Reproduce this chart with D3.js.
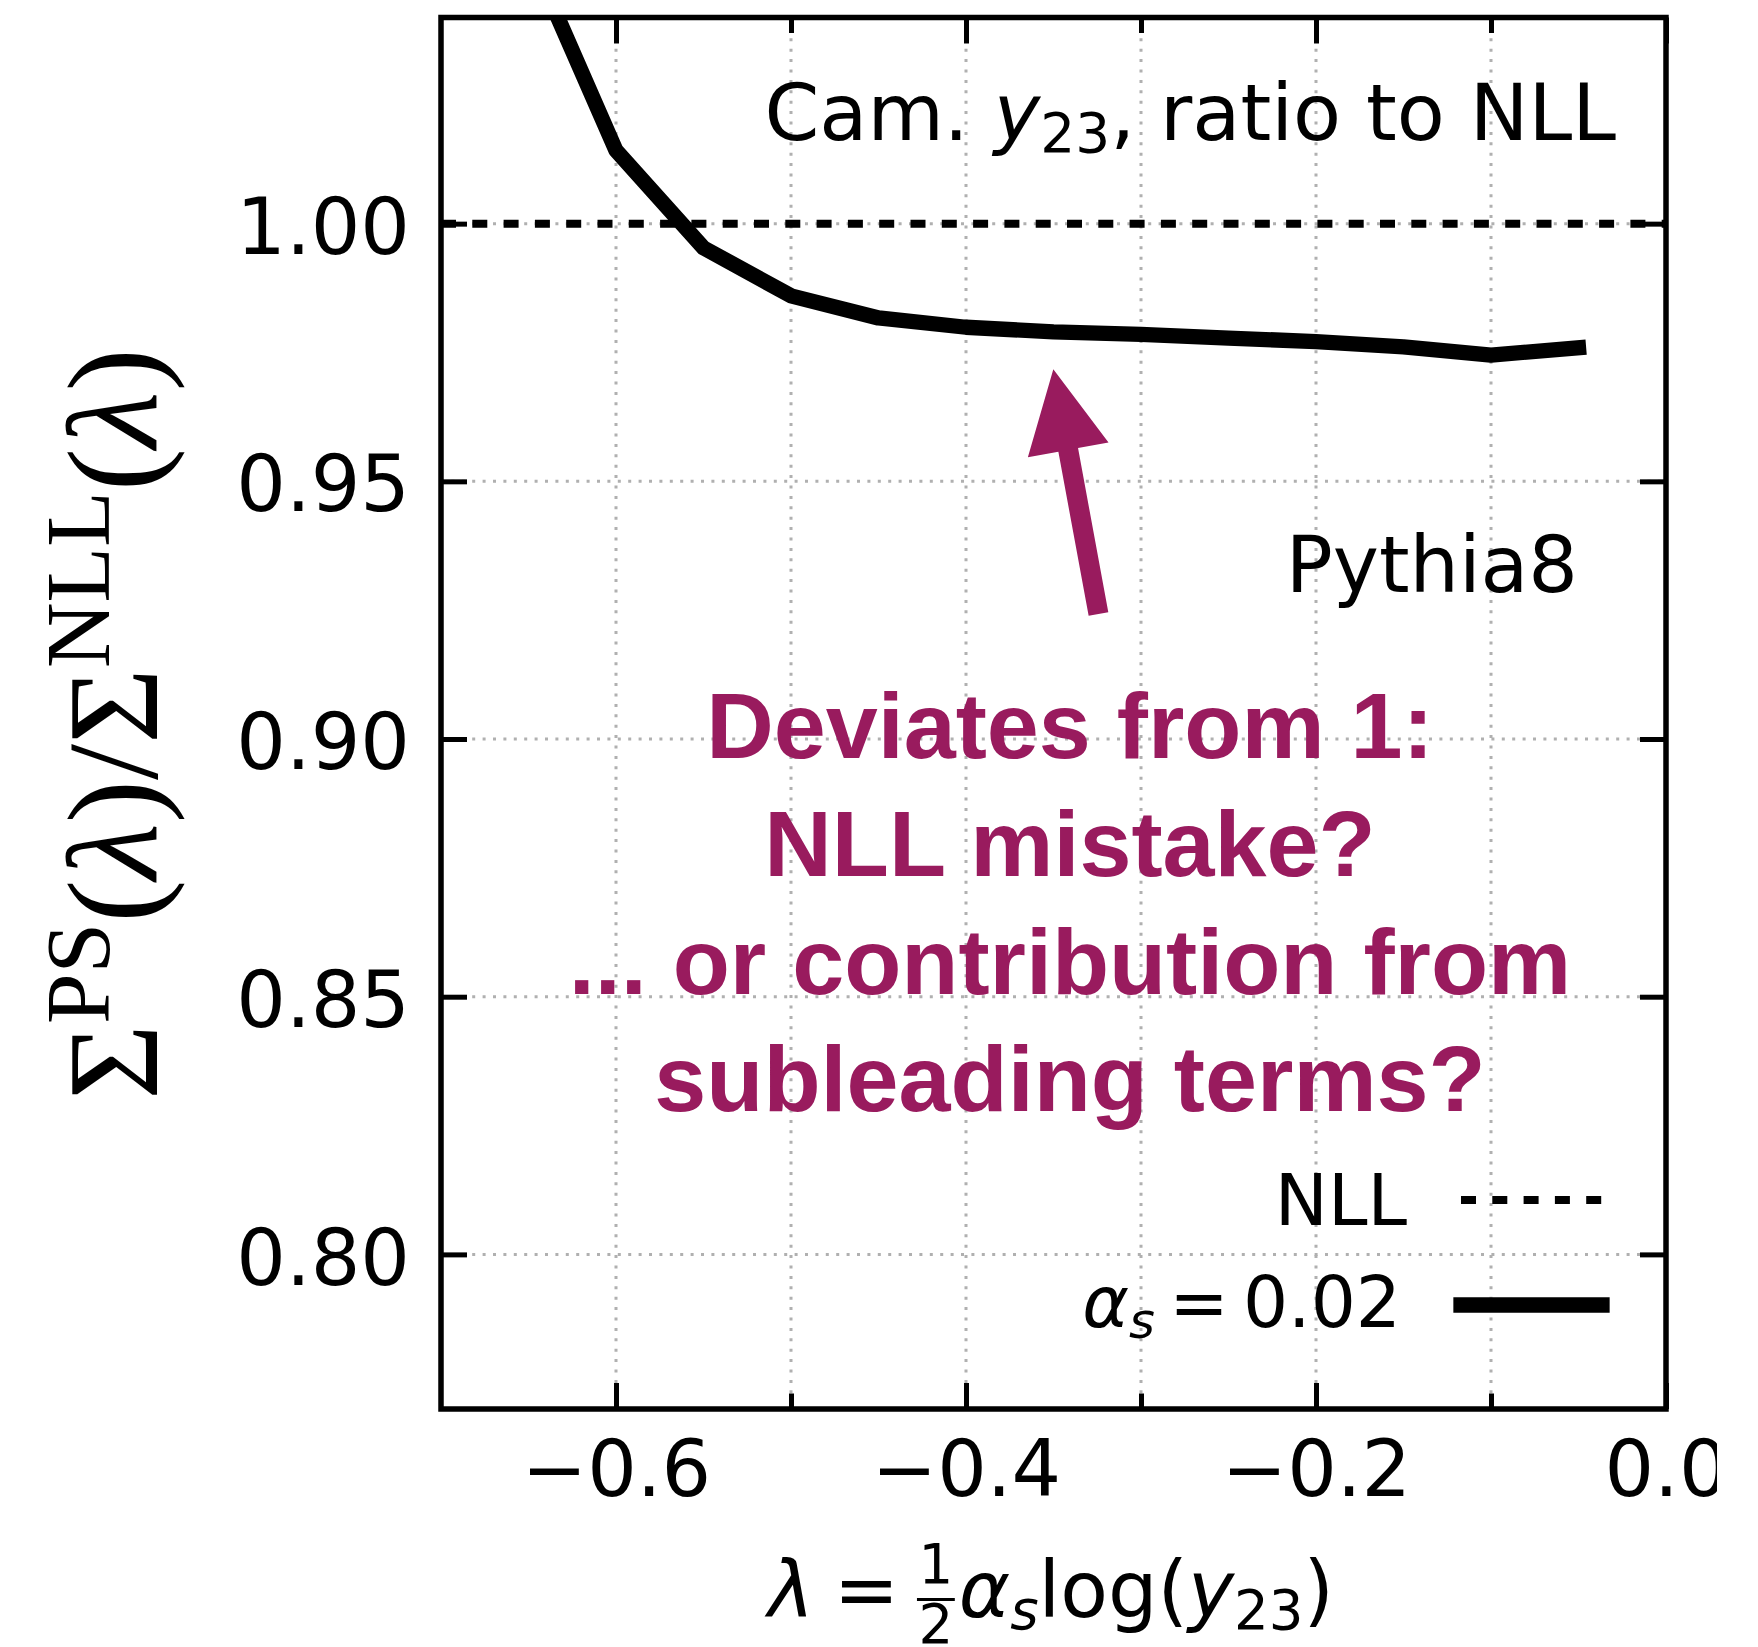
<!DOCTYPE html>
<html>
<head>
<meta charset="utf-8">
<script src="https://cdn.jsdelivr.net/npm/d3@7"></script>
<style>
  body { margin: 0; background: #fff; }
  svg { display: block; }
</style>
</head>
<body>
<svg id="chart" width="1758" height="1647"></svg>
<script>
// Parton-shower / NLL ratio for the Cambridge y23 resolution, alpha_s = 0.02
const lambdaValues = [-0.65, -0.6, -0.55, -0.5, -0.45, -0.4, -0.35, -0.3, -0.25, -0.2, -0.15, -0.1, -0.05];
const ratioValues  = [1.053, 1.0142, 0.9953, 0.9860, 0.9817, 0.9799, 0.9790, 0.9785, 0.9778, 0.9771, 0.9761, 0.9745, 0.9759];
const nllReference = 1.0;

const xDomain = [-0.7, 0.0];
const yDomain = [0.77, 1.04];
const xMajorTicks = [-0.6, -0.4, -0.2, 0.0];
const xMinorTicks = [-0.5, -0.3, -0.1];
const yTicks = [0.80, 0.85, 0.90, 0.95, 1.00];

const legendLabels = ["NLL", "αs = 0.02"];
const annotationLines = ["Deviates from 1:", "NLL mistake?", "... or contribution from", "subleading terms?"];
// arrow in data coordinates: tail -> tip
const arrowTail = [-0.3243, 0.92426];
const arrowTip  = [-0.3501, 0.97174];

const W = 1758, H = 1647;
const plot = { left: 441, right: 1666, top: 17.5, bottom: 1409 };
const SANS = "'DejaVu Sans', sans-serif";
const PURPLE = "#991b5e";

const svg = d3.select("#chart");
const x = d3.scaleLinear().domain(xDomain).range([plot.left, plot.right]);
const y = d3.scaleLinear().domain(yDomain).range([plot.bottom, plot.top]);

const defs = svg.append("defs");
defs.append("clipPath").attr("id", "plotClip")
  .append("rect").attr("x", plot.left).attr("y", plot.top)
  .attr("width", plot.right - plot.left).attr("height", plot.bottom - plot.top);
defs.append("clipPath").attr("id", "figClip")
  .append("rect").attr("x", 0).attr("y", 0).attr("width", 1717).attr("height", H);

// dotted grid
const grid = svg.append("g")
  .attr("stroke", "#b0b0b0").attr("stroke-width", 3).attr("stroke-dasharray", "3 7.4");
grid.selectAll("line.gv")
  .data(xMajorTicks.concat(xMinorTicks).filter(d => d > xDomain[0] && d < xDomain[1]))
  .join("line").attr("class", "gv")
  .attr("x1", d => x(d)).attr("x2", d => x(d))
  .attr("y1", plot.top).attr("y2", plot.bottom);
grid.selectAll("line.gh")
  .data(yTicks)
  .join("line").attr("class", "gh")
  .attr("x1", plot.left).attr("x2", plot.right)
  .attr("y1", d => y(d)).attr("y2", d => y(d));

// NLL reference
svg.append("line")
  .attr("x1", x(xDomain[0])).attr("x2", x(xDomain[1]))
  .attr("y1", y(nllReference)).attr("y2", y(nllReference))
  .attr("stroke", "#000").attr("stroke-width", 8).attr("stroke-dasharray", "15 16.3");

// shower curve
const series = lambdaValues.map((l, i) => [l, ratioValues[i]]);
svg.append("path")
  .datum(series)
  .attr("clip-path", "url(#plotClip)")
  .attr("fill", "none").attr("stroke", "#000").attr("stroke-width", 15.3)
  .attr("stroke-linejoin", "round").attr("stroke-linecap", "square")
  .attr("d", d3.line().x(d => x(d[0])).y(d => y(d[1])));

// axes with inward ticks on all sides
function styleAxis(g, size) {
  g.select(".domain").remove();
  g.attr("font-family", SANS).attr("font-size", size || 78);
  g.selectAll(".tick line").attr("stroke", "#000").attr("stroke-width", 5);
  g.selectAll(".tick text").attr("fill", "#000");
}
const bottomWrap = svg.append("g").attr("clip-path", "url(#figClip)");
bottomWrap.append("g").attr("transform", `translate(0,${plot.bottom})`)
  .call(d3.axisBottom(x).tickValues(xMajorTicks).tickSize(-26).tickPadding(32).tickFormat(d3.format(".1f")))
  .call(styleAxis);
svg.append("g").attr("transform", `translate(0,${plot.bottom})`)
  .call(d3.axisBottom(x).tickValues(xMinorTicks).tickSize(-15.5).tickFormat(""))
  .call(styleAxis);
svg.append("g").attr("transform", `translate(0,${plot.top})`)
  .call(d3.axisTop(x).tickValues(xMajorTicks).tickSize(-26).tickFormat(""))
  .call(styleAxis);
svg.append("g").attr("transform", `translate(0,${plot.top})`)
  .call(d3.axisTop(x).tickValues(xMinorTicks).tickSize(-15.5).tickFormat(""))
  .call(styleAxis);
const leftAxis = svg.append("g").attr("transform", `translate(${plot.left},0)`)
  .call(d3.axisLeft(y).tickValues(yTicks).tickSize(-26).tickPadding(31).tickFormat(d3.format(".2f")))
  .call(styleAxis);
leftAxis.selectAll(".tick text").attr("dy", "0.38em");
svg.append("g").attr("transform", `translate(${plot.right},0)`)
  .call(d3.axisRight(y).tickValues(yTicks).tickSize(-26).tickFormat(""))
  .call(styleAxis);

// frame
svg.append("rect")
  .attr("x", plot.left).attr("y", plot.top)
  .attr("width", plot.right - plot.left).attr("height", plot.bottom - plot.top)
  .attr("fill", "none").attr("stroke", "#000").attr("stroke-width", 5.5);

// sequential layout for small math-like labels
function layoutMath(g, parts, fs) {
  let cx = 0;
  for (const p of parts) {
    if (p.space !== undefined) { cx += p.space * fs; continue; }
    if (p.frac) {
      const s = fs * 0.7;
      const num = g.append("text").attr("font-size", s).attr("text-anchor", "middle").text(p.frac[0]);
      const den = g.append("text").attr("font-size", s).attr("text-anchor", "middle").text(p.frac[1]);
      const w = Math.max(num.node().getComputedTextLength(), den.node().getComputedTextLength()) + 0.04 * fs;
      const mid = cx + w / 2 + 0.03 * fs;
      num.attr("x", mid).attr("y", -0.44 * fs);
      den.attr("x", mid).attr("y", 0.335 * fs);
      g.append("line").attr("x1", cx + 0.03 * fs).attr("x2", cx + 0.03 * fs + w)
        .attr("y1", -0.225 * fs).attr("y2", -0.225 * fs)
        .attr("stroke", "#000").attr("stroke-width", 0.04 * fs);
      cx += w + 0.08 * fs;
      continue;
    }
    const t = g.append("text")
      .attr("x", cx)
      .attr("y", p.sub ? 0.15 * fs : 0)
      .attr("font-size", p.sub ? fs * 0.7 : fs)
      .attr("font-style", p.italic ? "italic" : "normal")
      .text(p.t);
    cx += t.node().getComputedTextLength();
  }
  return cx;
}
function mathLabel(parts, fs, anchorX, baseline, align) {
  const g = svg.append("g").attr("font-family", SANS).attr("fill", "#000");
  const w = layoutMath(g, parts, fs);
  const x0 = align === "end" ? anchorX - w : align === "middle" ? anchorX - w / 2 : anchorX;
  g.attr("transform", `translate(${x0},${baseline})`);
  return g;
}

// x-axis label
mathLabel([
  { t: "λ", italic: true }, { space: 0.25 }, { t: "=" }, { space: 0.2 },
  { frac: ["1", "2"] },
  { t: "α", italic: true }, { t: "s", italic: true, sub: true },
  { t: "log" }, { t: "(" }, { t: "y", italic: true }, { t: "23", sub: true }, { t: ")" }
], 78, 1051, 1617, "middle");

// y-axis label
const yLab = svg.append("text")
  .attr("transform", "translate(157,724) rotate(-90)")
  .attr("text-anchor", "middle")
  .attr("font-family", "'Liberation Serif', 'DejaVu Serif', serif")
  .attr("font-size", 130).attr("fill", "#000");
yLab.append("tspan").text("Σ");
yLab.append("tspan").attr("font-size", 91).attr("dy", -48).text("PS");
yLab.append("tspan").attr("dy", 48).text("(");
yLab.append("tspan").attr("font-style", "italic").text("λ");
yLab.append("tspan").text(")/Σ");
yLab.append("tspan").attr("font-size", 91).attr("dy", -48).text("NLL");
yLab.append("tspan").attr("dy", 48).text("(");
yLab.append("tspan").attr("font-style", "italic").text("λ");
yLab.append("tspan").text(")");

// title inside the axes
mathLabel([
  { t: "Cam." }, { space: 0.318 }, { t: "y", italic: true }, { t: "23", sub: true },
  { t: "," }, { space: 0.318 }, { t: "ratio" }, { space: 0.318 }, { t: "to" }, { space: 0.318 }, { t: "NLL" }
], 78.5, 1616, 140, "end");

svg.append("text")
  .attr("x", 1578).attr("y", 592).attr("text-anchor", "end")
  .attr("font-family", SANS).attr("font-size", 78).attr("fill", "#000")
  .text("Pythia8");

// legend
const legendFs = 71;
const legX0 = 1461, legX1 = 1602;
svg.append("text")
  .attr("x", 1407).attr("y", 1225).attr("text-anchor", "end")
  .attr("font-family", SANS).attr("font-size", legendFs).attr("fill", "#000")
  .text(legendLabels[0]);
svg.append("line")
  .attr("x1", legX0).attr("x2", legX1).attr("y1", 1200).attr("y2", 1200)
  .attr("stroke", "#000").attr("stroke-width", 8).attr("stroke-dasharray", "15 16.3");
mathLabel([
  { t: "α", italic: true }, { t: "s", italic: true, sub: true }, { space: 0.2 }, { t: "=" }, { space: 0.2 }, { t: "0.02" }
], legendFs, 1401, 1327, "end");
svg.append("line")
  .attr("x1", legX0).attr("x2", legX1).attr("y1", 1305).attr("y2", 1305)
  .attr("stroke", "#000").attr("stroke-width", 15.3).attr("stroke-linecap", "square");

// annotation arrow
function arrowPolygon(tail, tip, shaftW, headW, headL) {
  const dx = tip[0] - tail[0], dy = tip[1] - tail[1];
  const L = Math.hypot(dx, dy);
  const ux = dx / L, uy = dy / L, nx = -uy, ny = ux;
  const bx = tip[0] - ux * headL, by = tip[1] - uy * headL;
  return [
    [tail[0] + nx * shaftW / 2, tail[1] + ny * shaftW / 2],
    [bx + nx * shaftW / 2, by + ny * shaftW / 2],
    [bx + nx * headW / 2, by + ny * headW / 2],
    tip,
    [bx - nx * headW / 2, by - ny * headW / 2],
    [bx - nx * shaftW / 2, by - ny * shaftW / 2],
    [tail[0] - nx * shaftW / 2, tail[1] - ny * shaftW / 2]
  ];
}
const tailPx = [x(arrowTail[0]), y(arrowTail[1])];
const tipPx = [x(arrowTip[0]), y(arrowTip[1])];
svg.append("polygon")
  .attr("points", arrowPolygon(tailPx, tipPx, 20, 82, 82).map(p => p.join(",")).join(" "))
  .attr("fill", PURPLE);

// annotation text
const noteBaselines = [758, 876, 994, 1111];
svg.append("g")
  .attr("font-family", "'Liberation Sans', Arial, sans-serif")
  .attr("font-weight", "bold").attr("font-size", 93.5).attr("fill", PURPLE)
  .attr("text-anchor", "middle")
  .selectAll("text").data(annotationLines).join("text")
  .attr("x", 1070).attr("y", (d, i) => noteBaselines[i])
  .text(d => d);
</script>
</body>
</html>
